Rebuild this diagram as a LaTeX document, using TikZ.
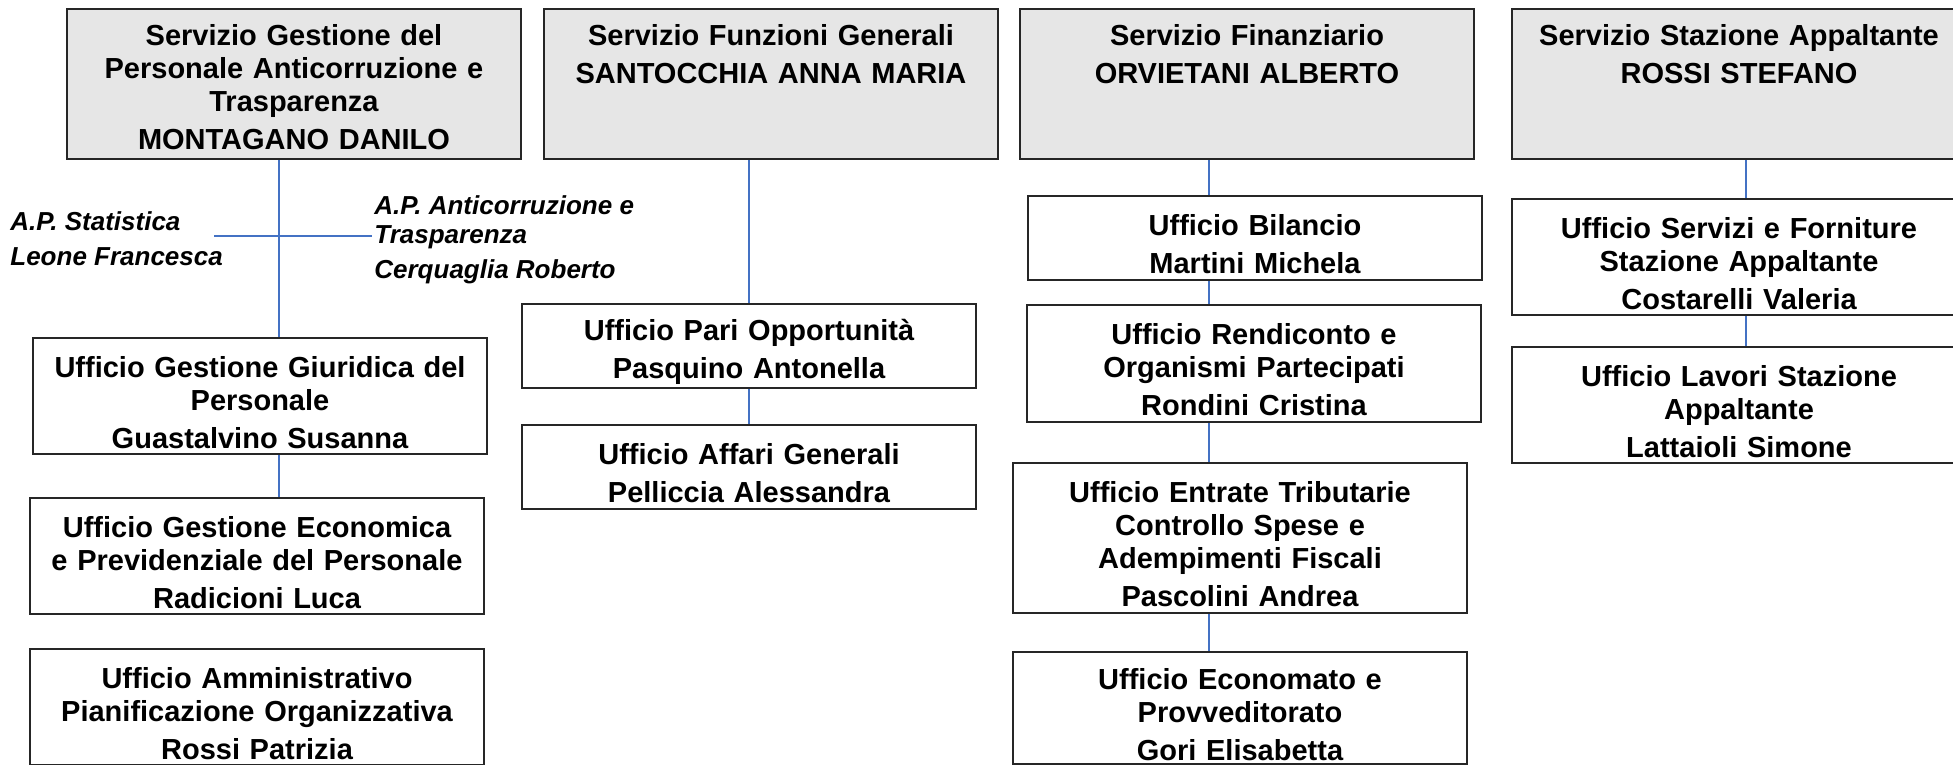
\documentclass[tikz,border=0pt]{standalone}
\usepackage{fontspec}
\setmainfont{Liberation Sans}
\usepackage{xcolor}
\usepackage{tikz}
\definecolor{servgray}{HTML}{E6E6E6}
\definecolor{boxline}{HTML}{262626}
\definecolor{linkblue}{HTML}{4472C4}

\begin{document}
\begin{tikzpicture}[x=0.5pt, y=-0.5pt,
 servbox/.style={draw=boxline, line width=1pt, fill=servgray, anchor=north west, text width=219pt, align=center, inner xsep=4pt, inner ysep=0pt, text height=18.5pt, text depth=56.5pt, font=\fontsize{14.5}{16.5}\selectfont\bfseries},
 offbox/.style={draw=boxline, line width=1pt, anchor=north west, text width=219pt, align=center, inner xsep=4pt, inner ysep=0pt, text height=17pt, minimum height=#1, font=\fontsize{14.5}{16.5}\selectfont\bfseries},
 aplabel/.style={anchor=west, align=left, inner sep=1pt, font=\fontsize{13}{14.5}\selectfont\bfseries\itshape},
 link/.style={draw=linkblue, line width=0.75pt}]
\useasboundingbox (0,0) rectangle (1953,765);

% servizi
\node[servbox] (serv1) at (66,8) {Servizio Gestione del\\Personale Anticorruzione e\\Trasparenza\\[2.5pt]MONTAGANO DANILO};
\node[servbox] (serv2) at (543,8) {Servizio Funzioni Generali\\[2.5pt]SANTOCCHIA ANNA MARIA};
\node[servbox] (serv3) at (1019,8) {Servizio Finanziario\\[2.5pt]ORVIETANI ALBERTO};
\node[servbox] (serv4) at (1511,8) {Servizio Stazione Appaltante\\[2.5pt]ROSSI STEFANO};

% posizioni organizzative
\node[aplabel] (apleft) at (8,239) {A.P. Statistica\\[3pt]Leone Francesca};
\node[aplabel] (apright) at (372,240) {A.P. Anticorruzione e\\Trasparenza\\[3pt]Cerquaglia Roberto};

% uffici
\node[offbox=58pt] (giur) at (32,337) {Ufficio Gestione Giuridica del\\Personale\\[2.5pt]Guastalvino Susanna};
\node[offbox=58pt] (econ) at (29,497) {Ufficio Gestione Economica\\e Previdenziale del Personale\\[2.5pt]Radicioni Luca};
\node[offbox=58pt] (amm) at (29,648) {Ufficio Amministrativo\\Pianificazione Organizzativa\\[2.5pt]Rossi Patrizia};
\node[offbox=42pt] (pari) at (521,303) {Ufficio Pari Opportunità\\[2.5pt]Pasquino Antonella};
\node[offbox=42pt] (affari) at (521,424) {Ufficio Affari Generali\\[2.5pt]Pelliccia Alessandra};
\node[offbox=42pt] (bil) at (1027,195) {Ufficio Bilancio\\[2.5pt]Martini Michela};
\node[offbox=58.5pt] (rend) at (1026,304) {Ufficio Rendiconto e\\Organismi Partecipati\\[2.5pt]Rondini Cristina};
\node[offbox=75pt] (entr) at (1012,462) {Ufficio Entrate Tributarie\\Controllo Spese e\\Adempimenti Fiscali\\[2.5pt]Pascolini Andrea};
\node[offbox=56pt] (econo) at (1012,651) {Ufficio Economato e\\Provveditorato\\[2.5pt]Gori Elisabetta};
\node[offbox=58pt] (forn) at (1511,198) {Ufficio Servizi e Forniture\\Stazione Appaltante\\[2.5pt]Costarelli Valeria};
\node[offbox=58pt] (lav) at (1511,346) {Ufficio Lavori Stazione\\Appaltante\\[2.5pt]Lattaioli Simone};

% linee
\coordinate (cross) at (279,236);
\coordinate (apl) at ([xshift=-5.5pt]apleft.east);
\coordinate (fin) at (1209,0);
\coordinate (staz) at (1746,0);
\draw[link] (serv1.south -| cross) -- (giur.north -| cross);
\draw[link] (giur.south -| cross) -- (econ.north -| cross);
\draw[link] (apl |- cross) -- (apright.west |- cross);
\draw[link] (serv2.south -| pari.north) -- (pari.north);
\draw[link] (pari) -- (affari);
\draw[link] (serv3.south -| fin) -- (bil.north -| fin);
\draw[link] (bil.south -| fin) -- (rend.north -| fin);
\draw[link] (rend.south -| fin) -- (entr.north -| fin);
\draw[link] (entr.south -| fin) -- (econo.north -| fin);
\draw[link] (serv4.south -| staz) -- (forn.north -| staz);
\draw[link] (forn.south -| staz) -- (lav.north -| staz);
\end{tikzpicture}
\end{document}
